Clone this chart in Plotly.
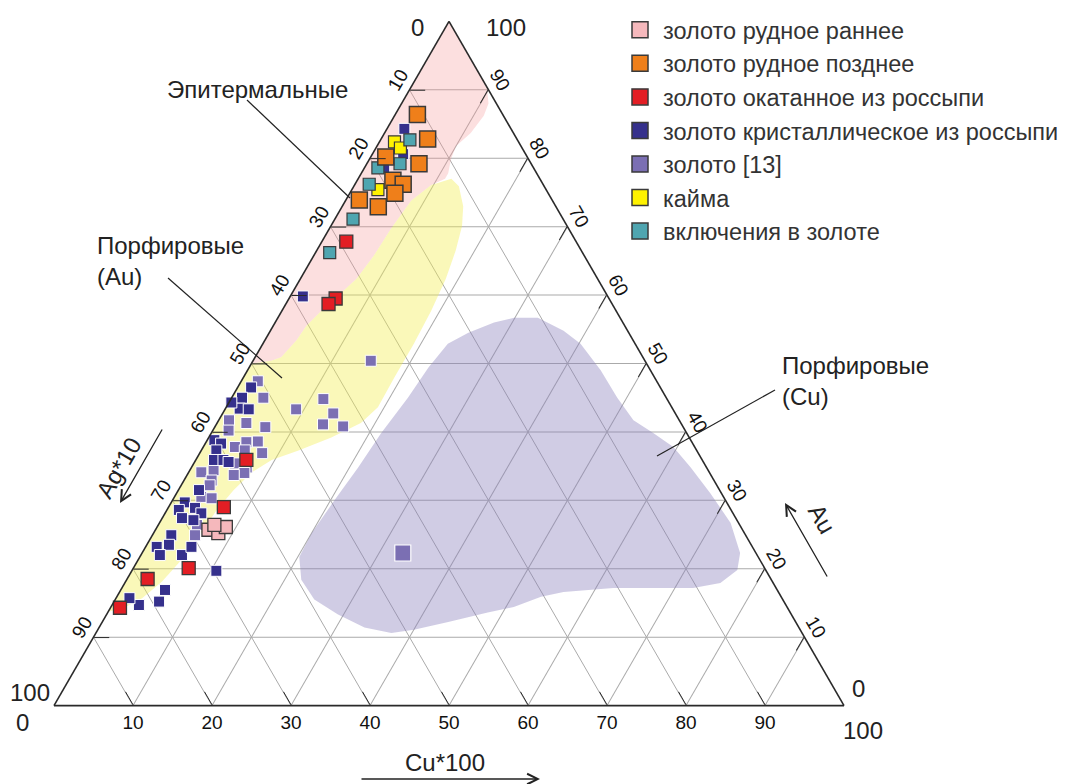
import plotly.graph_objects as go

FONT = "Liberation Sans, Arial, sans-serif"
W, H = 1070, 784
OFF = 8  # page body margin in the browser

# ---------------- data (Au, Ag*10, Cu*100), normalised to 100 ----------------
early_au = [25.7, 25.2, 26.1, 26.4]
early_ag = [67.6, 66.6, 65.2, 66.5]
early_cu = [6.7, 8.2, 8.7, 7.1]

late_au = [86.4, 82.8, 80.2, 79.2, 76.8, 76.2, 74.9, 73.9, 72.9]
late_ag = [10.8, 11.3, 17.9, 14.2, 18.7, 17.7, 19.4, 24.4, 22.5]
late_cu = [2.8, 5.9, 1.9, 6.6, 4.5, 6.1, 5.7, 1.7, 4.6]

rolled_au = [67.8, 59.5, 58.7, 35.9, 29.0, 20.1, 18.5, 14.3]
rolled_ag = [29.1, 34.6, 35.9, 57.7, 64.0, 72.9, 78.9, 84.5]
rolled_cu = [3.1, 5.9, 5.4, 6.4, 7.0, 7.0, 2.6, 1.2]

cryst_au = [84.3, 80.6, 78.6, 59.8, 46.5, 45.0, 43.4, 44.3, 43.3, 38.8, 38.3, 37.3,
            35.9, 35.9, 35.6, 31.5, 29.7, 28.9, 28.6, 27.4, 28.1, 27.1, 24.9, 23.2,
            23.5, 22.0, 23.2, 22.0, 19.7, 16.9, 15.2, 14.7, 15.7]
cryst_ag = [13.5, 15.5, 18.9, 38.6, 51.8, 53.7, 54.8, 55.4, 53.7, 60.3, 59.7, 60.8,
            61.8, 60.6, 60.1, 65.9, 68.6, 67.7, 69.9, 70.1, 67.3, 68.8, 72.7, 75.4,
            73.7, 72.8, 71.0, 75.6, 69.6, 77.5, 79.1, 81.9, 82.6]
cryst_cu = [2.2, 3.9, 2.5, 1.6, 1.7, 1.3, 1.8, 0.3, 3.0, 0.9, 2.0, 1.9,
            2.3, 3.5, 4.3, 2.6, 1.7, 3.4, 1.5, 2.5, 4.6, 4.1, 2.4, 1.4,
            2.8, 5.2, 5.8, 2.4, 10.7, 5.6, 5.7, 3.4, 1.7]

lit_au = [50.4, 44.8, 43.3, 42.7, 41.1, 40.8, 47.4, 45.0, 40.7, 38.6, 36.9, 41.7,
          41.3, 40.2, 38.5, 37.8, 37.3, 35.4, 34.8, 34.4, 34.0, 34.1, 32.9, 33.7,
          32.2, 30.5, 30.3, 26.4, 24.9]
lit_ag = [34.7, 43.5, 47.7, 43.3, 45.4, 43.0, 50.5, 51.0, 52.9, 54.9, 55.2, 57.0,
          55.0, 57.8, 56.4, 58.2, 57.2, 59.4, 58.2, 62.6, 58.9, 64.3, 63.6, 60.4,
          64.2, 66.1, 64.9, 68.7, 69.7]
lit_cu = [14.9, 11.7, 9.0, 14.0, 13.5, 16.2, 2.1, 4.0, 6.4, 6.5, 7.9, 1.3,
          3.7, 2.0, 5.1, 4.0, 5.5, 5.2, 7.0, 3.0, 7.1, 1.6, 3.5, 5.9,
          3.6, 3.4, 4.8, 4.9, 5.4]
lit_big_au = [22.3]
lit_big_ag = [44.7]
lit_big_cu = [33.0]

rim_au = [82.4, 81.5, 75.4]
rim_ag = [15.7, 15.4, 21.3]
rim_cu = [1.9, 3.1, 3.3]

incl_au = [82.7, 79.2, 78.6, 76.2, 71.1, 66.2]
incl_ag = [13.6, 16.6, 19.7, 22.0, 26.6, 32.0]
incl_cu = [3.7, 4.2, 1.7, 1.8, 2.3, 1.8]

# ---------------- field outlines (Au, Ag*10, Cu*100) ----------------
epi_au = [100, 90.4, 88.0, 86.2, 83.7, 81.8, 79.9, 77.8, 77.0, 76.1, 73.8, 69.7,
          65.7, 62.4, 59.9, 57.7, 55.5, 53.4, 50.9, 50.4, 50.0]
epi_ag = [0, 0, 1.0, 2.5, 5.4, 8.2, 9.8, 11.2, 12.0, 14.2, 17.9, 22.5,
          26.7, 30.5, 34.1, 37.3, 40.3, 42.6, 45.8, 47.3, 50.0]
epi_cu = [0, 9.6, 11.0, 11.3, 10.9, 10.0, 10.3, 11.0, 11.0, 9.7, 8.3, 7.8,
          7.6, 7.1, 6.0, 5.0, 4.2, 4.0, 3.3, 2.3, 0]

pau_au = [77.0, 75.9, 73.0, 70.1, 66.5, 62.4, 57.7, 52.9, 48.0, 43.6, 41.3, 39.2,
          37.3, 35.9, 34.1, 31.5, 28.6, 24.9, 21.3, 18.1, 15.7, 14.3, 13.7, 50.0,
          50.4, 50.9, 53.4, 55.5, 57.7, 59.9, 62.4, 65.7, 69.7, 73.8, 76.1]
pau_ag = [11.2, 10.8, 11.7, 13.3, 15.9, 19.2, 23.4, 28.0, 32.9, 37.2, 40.5, 45.3,
          50.4, 54.5, 57.9, 61.5, 65.1, 69.1, 73.2, 77.3, 81.0, 84.0, 86.3, 50.0,
          47.3, 45.8, 42.6, 40.3, 37.3, 34.1, 30.5, 26.7, 22.5, 17.9, 14.2]
pau_cu = [11.8, 13.3, 15.3, 16.6, 17.6, 18.4, 18.9, 19.1, 19.1, 19.2, 18.2, 15.5,
          12.3, 9.6, 8.0, 7.0, 6.3, 6.0, 5.5, 4.6, 3.3, 1.7, 0, 0,
          2.3, 3.3, 4.0, 4.2, 5.0, 6.0, 7.1, 7.6, 7.8, 8.3, 9.7]

pcu_au = [56.7, 54.8, 52.9, 49.0, 45.0, 41.7, 39.8, 37.8, 34.8, 31.0, 26.7, 22.3,
          19.8, 17.9, 17.2, 17.2, 16.6, 15.9, 14.4, 13.6, 12.2, 11.1, 10.6, 11.4,
          13.3, 15.5, 18.4, 21.7, 25.2, 30.0, 34.8, 39.8, 45.0, 49.4, 52.9, 54.5,
          56.0, 56.7]
pcu_ag = [10.4, 8.1, 6.9, 6.3, 6.2, 5.8, 4.2, 2.7, 2.0, 1.4, 1.0, 2.0,
          3.6, 6.7, 10.5, 20.6, 27.2, 30.4, 34.6, 38.3, 44.0, 48.9, 52.0, 55.0,
          57.4, 59.3, 59.5, 58.1, 54.8, 49.5, 44.1, 38.7, 32.7, 27.9, 23.7, 20.3,
          16.3, 13.4]
pcu_cu = [32.9, 37.1, 40.2, 44.7, 48.8, 52.5, 56.0, 59.5, 63.2, 67.6, 72.3, 75.7,
          76.6, 75.4, 72.3, 62.2, 56.2, 53.7, 51.0, 48.1, 43.8, 40.0, 37.4, 33.6,
          29.3, 25.2, 22.1, 20.2, 20.0, 20.5, 21.1, 21.5, 22.3, 22.7, 23.4, 25.2,
          27.7, 29.9]

tick_vals = [10, 20, 30, 40, 50, 60, 70, 80, 90]
tick_text_rev = ["90", "80", "70", "60", "50", "40", "30", "20", "10"]

legend_names = ["золото рудное раннее", "золото рудное позднее",
                "золото окатанное из россыпи", "золото кристаллическое из россыпи",
                "золото [13]", "кайма", "включения в золоте"]
legend_colors = ["#f5b8bc", "#ef7f1a", "#e31e24", "#35308c", "#7b6fb3", "#fff200", "#4fa5b0"]

fig = go.Figure()

def field(a, b, c, color):
    fig.add_trace(go.Scatterternary(a=a, b=b, c=c, mode="lines", fill="toself",
                                    fillcolor=color, line=dict(width=0, color=color),
                                    hoverinfo="skip", showlegend=False))

field(epi_au, epi_ag, epi_cu, "rgba(246,150,150,0.30)")
field(pau_au, pau_ag, pau_cu, "rgba(242,237,80,0.40)")
field(pcu_au, pcu_ag, pcu_cu, "rgba(137,127,187,0.40)")

for i, (nm, col) in enumerate(zip(legend_names, legend_colors)):
    fig.add_trace(go.Scatterternary(a=[None], b=[None], c=[None], mode="markers", name=nm,
                                    legendgroup=f"g{i}",
                                    marker=dict(symbol="square", size=16, color=col,
                                                line=dict(color="#3a3a3a", width=1.5))))

def pts(a, b, c, color, size, lc, lw, gi):
    fig.add_trace(go.Scatterternary(a=a, b=b, c=c, mode="markers", showlegend=False,
                                    legendgroup=f"g{gi}", cliponaxis=False,
                                    marker=dict(symbol="square", size=size, color=color,
                                                line=dict(color=lc, width=lw))))

pts(lit_au, lit_ag, lit_cu, legend_colors[4], 11, "white", 1, 4)
pts(lit_big_au, lit_big_ag, lit_big_cu, legend_colors[4], 16, "white", 1.2, 4)
pts(cryst_au, cryst_ag, cryst_cu, legend_colors[3], 11, "white", 1, 3)
pts(early_au, early_ag, early_cu, legend_colors[0], 13, "#3a3a3a", 1.3, 0)
pts(rolled_au, rolled_ag, rolled_cu, legend_colors[2], 13, "#3a3a3a", 1.3, 2)
pts(rim_au, rim_ag, rim_cu, legend_colors[5], 12, "#3a3a3a", 1.2, 5)
pts(incl_au, incl_ag, incl_cu, legend_colors[6], 12, "#3a3a3a", 1.2, 6)
pts(late_au, late_ag, late_cu, legend_colors[1], 16, "#3a3a3a", 1.5, 1)

axis_common = dict(min=0, tickmode="array", tickvals=tick_vals, ticktext=tick_text_rev,
                   showgrid=True, gridcolor="#aaaaaa", gridwidth=1.2,
                   showline=True, linecolor="#2a2a2a", linewidth=1.6,
                   ticks="inside", ticklen=15, tickcolor="#2a2a2a", tickwidth=1.2,
                   tickfont=dict(family=FONT, size=19, color="#111"), title=dict(text=""))

fig.update_layout(
    width=W, height=H, margin=dict(l=0, r=0, t=0, b=0),
    paper_bgcolor="white", font=dict(family=FONT, color="#222"),
    ternary=dict(sum=100, bgcolor="white",
                 domain=dict(x=[(54 - OFF) / W, (844 - OFF) / W],
                             y=[1 - (706 - OFF) / H, 1 - (21 - OFF) / H]),
                 aaxis=dict(axis_common, tickangle=-60),
                 baxis=dict(axis_common, tickangle=0),
                 caxis=dict(axis_common, tickangle=60)),
    legend=dict(x=(617 - OFF) / W, y=1.0, xanchor="left", yanchor="top",
                font=dict(family=FONT, size=23.5, color="#333"),
                bgcolor="rgba(0,0,0,0)", tracegroupgap=0, itemwidth=36),
)

def P(x, y):
    return (x - OFF) / W, 1 - (y - OFF) / H

anns = []
def text(x, y, s, size=24, angle=0, xanchor="center", align="center"):
    px, py = P(x, y)
    anns.append(dict(x=px, y=py, xref="paper", yref="paper", text=s, showarrow=False,
                     textangle=angle, xanchor=xanchor, yanchor="middle", align=align,
                     font=dict(family=FONT, size=size, color="#222")))

def arrow(x0, y0, x1, y1):
    px, py = P(x1, y1)
    anns.append(dict(x=px, y=py, xref="paper", yref="paper", text="", showarrow=True,
                     ax=x0 - x1, ay=y0 - y1, arrowhead=5, arrowsize=1.6, arrowwidth=1.3,
                     arrowcolor="#222"))

text(165, 90, "Эпитермальные", xanchor="left")
text(95, 261, "Порфировые<br>(Au)", xanchor="left", align="left")
text(780, 381, "Порфировые<br>(Cu)", xanchor="left", align="left")
text(118, 468, "Ag*10", angle=-60)
text(822, 518, "Au", angle=60)
text(445, 762, "Cu*100")
text(417, 27, "0")
text(506, 27, "100")
text(30, 692, "100")
text(22, 722, "0")
text(858, 688, "0")
text(863, 730, "100")
arrow(163, 428, 120, 503)
arrow(828, 578, 785, 503)
arrow(360, 779, 540, 779)

shapes = []
for (x0, y0, x1, y1) in [(247, 100, 350, 198), (168, 278, 282, 378), (775, 390, 657, 456)]:
    a0, b0 = P(x0, y0)
    a1, b1 = P(x1, y1)
    shapes.append(dict(type="line", xref="paper", yref="paper", x0=a0, y0=b0, x1=a1, y1=b1,
                       line=dict(color="#222", width=1.2)))

fig.update_layout(annotations=anns, shapes=shapes)
fig.write_html("out.html")
